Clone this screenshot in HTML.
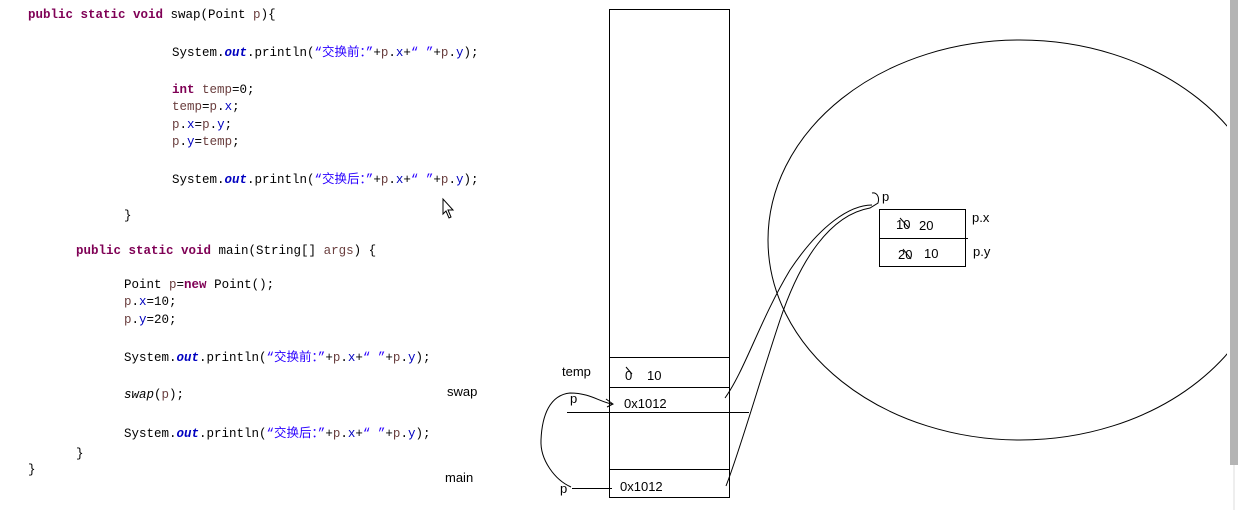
<!DOCTYPE html>
<html><head><meta charset="utf-8"><style>
html,body{margin:0;padding:0;background:#fff;width:1238px;height:510px;overflow:hidden}
svg{display:block}
.c{font-family:"Liberation Mono","Noto Sans CJK SC",monospace;font-size:12.5px;fill:#000}
.k{fill:#7f0055;font-weight:bold}
.v{fill:#6a3e3e}
.f{fill:#0000c0}
.o{fill:#0000c0;font-weight:bold;font-style:italic}
.s{fill:#2a00ff}
.h{font-family:"Liberation Sans",sans-serif;font-size:13px;fill:#000}
</style></head><body>
<svg width="1238" height="510" xmlns="http://www.w3.org/2000/svg">
<g class="c" xml:space="preserve">
<text x="28" y="18"><tspan class="k">public static void</tspan> swap(Point <tspan class="v">p</tspan>){</text>
<text x="172" y="56">System.<tspan class="o">out</tspan>.println(<tspan class="s">“交换前：”</tspan>+<tspan class="v">p</tspan>.<tspan class="f">x</tspan>+<tspan class="s">“ ”</tspan>+<tspan class="v">p</tspan>.<tspan class="f">y</tspan>);</text>
<text x="172" y="93"><tspan class="k">int</tspan> <tspan class="v">temp</tspan>=0;</text>
<text x="172" y="110"><tspan class="v">temp</tspan>=<tspan class="v">p</tspan>.<tspan class="f">x</tspan>;</text>
<text x="172" y="128"><tspan class="v">p</tspan>.<tspan class="f">x</tspan>=<tspan class="v">p</tspan>.<tspan class="f">y</tspan>;</text>
<text x="172" y="145"><tspan class="v">p</tspan>.<tspan class="f">y</tspan>=<tspan class="v">temp</tspan>;</text>
<text x="172" y="183">System.<tspan class="o">out</tspan>.println(<tspan class="s">“交换后：”</tspan>+<tspan class="v">p</tspan>.<tspan class="f">x</tspan>+<tspan class="s">“ ”</tspan>+<tspan class="v">p</tspan>.<tspan class="f">y</tspan>);</text>
<text x="124" y="219">}</text>
<text x="76" y="254"><tspan class="k">public static void</tspan> main(String[] <tspan class="v">args</tspan>) {</text>
<text x="124" y="288">Point <tspan class="v">p</tspan>=<tspan class="k">new</tspan> Point();</text>
<text x="124" y="305"><tspan class="v">p</tspan>.<tspan class="f">x</tspan>=10;</text>
<text x="124" y="323"><tspan class="v">p</tspan>.<tspan class="f">y</tspan>=20;</text>
<text x="124" y="361">System.<tspan class="o">out</tspan>.println(<tspan class="s">“交换前：”</tspan>+<tspan class="v">p</tspan>.<tspan class="f">x</tspan>+<tspan class="s">“ ”</tspan>+<tspan class="v">p</tspan>.<tspan class="f">y</tspan>);</text>
<text x="124" y="398"><tspan font-style="italic">swap</tspan>(<tspan class="v">p</tspan>);</text>
<text x="124" y="437">System.<tspan class="o">out</tspan>.println(<tspan class="s">“交换后：”</tspan>+<tspan class="v">p</tspan>.<tspan class="f">x</tspan>+<tspan class="s">“ ”</tspan>+<tspan class="v">p</tspan>.<tspan class="f">y</tspan>);</text>
<text x="76" y="457">}</text>
<text x="28" y="473">}</text>
</g>
<!-- cursor -->
<path d="M443,199 L443,214 L446,211 L449,218 L451,217 L448,210 L453,210 Z" fill="#fff" stroke="#000" stroke-width="1"/>
<text class="h" x="447" y="396">swap</text>
<text class="h" x="445" y="482">main</text>
<!-- stack -->
<g fill="none" stroke="#000" stroke-width="1">
<rect x="609.5" y="9.5" width="120" height="488"/>
<line x1="609" y1="357.5" x2="729" y2="357.5"/>
<line x1="609" y1="387.5" x2="729" y2="387.5"/>
<line x1="567" y1="412.5" x2="749" y2="412.5"/>
<line x1="609" y1="469.5" x2="729" y2="469.5"/>
<line x1="572" y1="488.5" x2="612" y2="488.5"/>
<path d="M571,487 C555,480 540,460 541,440 C542,415 550,395 570,393 C590,393 600,402 612,404"/>
<path d="M606,399 L613,404 L607,407"/>
<path d="M626,367 L632,374"/>
<path d="M725,398 C745,370 760,320 790,270 C820,225 850,205 872,205"/>
<path d="M726,486 C740,450 760,380 780,320 C800,260 830,215 870,208 L878,203 C880,196 876,192 872,193"/>
<path d="M900,218 L909,228"/>
<path d="M903,249 L911,259"/>
<rect x="879.5" y="209.5" width="86" height="57"/>
<line x1="879" y1="238.5" x2="968" y2="238.5"/>
<ellipse cx="1020" cy="240" rx="252" ry="200"/>
</g>
<rect x="1227" y="0" width="3" height="510" fill="#fff"/>
<rect x="1230" y="0" width="8" height="465" fill="#b4b4b4"/>
<line x1="1234" y1="465" x2="1234" y2="510" stroke="#ddd"/>
<g class="h">
<text x="562" y="376">temp</text>
<text x="625" y="380">0</text><text x="647" y="380">10</text>
<text x="570" y="403">p</text>
<text x="624" y="408">0x1012</text>
<text x="560" y="493">p</text>
<text x="620" y="491">0x1012</text>
<text x="882" y="201">p</text>
<text x="896" y="229">10</text><text x="919" y="230">20</text>
<text x="898" y="259">20</text><text x="924" y="258">10</text>
<text x="972" y="222">p.x</text>
<text x="973" y="256">p.y</text>
</g>
</svg>
</body></html>
